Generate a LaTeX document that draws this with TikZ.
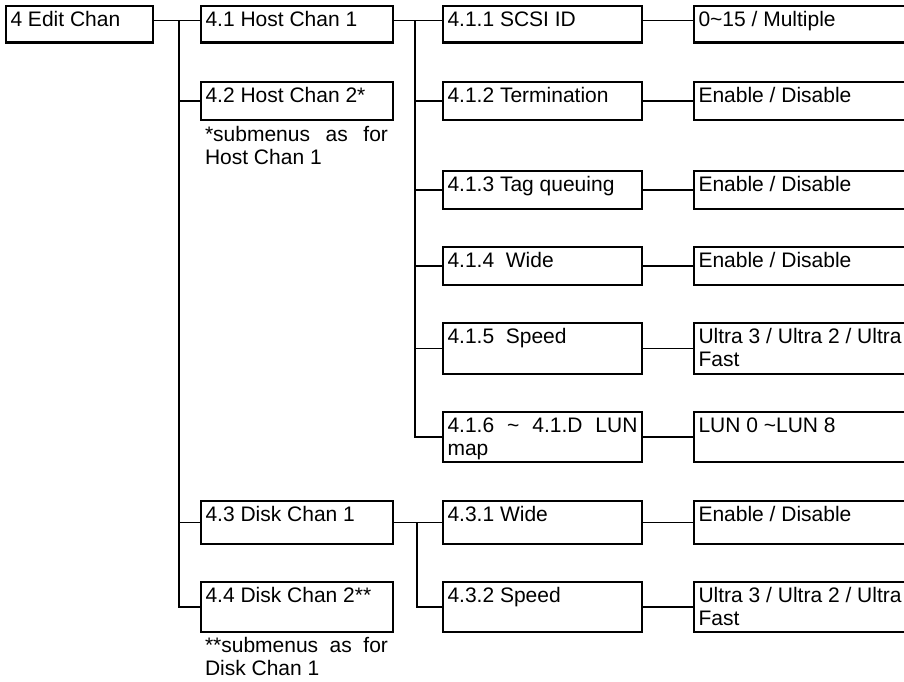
\documentclass[tikz,border=0pt]{standalone}
\usepackage{fontspec}
\setmainfont{Liberation Sans}
\newcommand\bxt[3]{\parbox[t][#2pt][t]{\dimexpr#1pt-9pt\relax}{\tolerance=10000\rule{0pt}{20.5pt}#3}}
\newcommand\notetext[1]{\parbox[t]{183pt}{\tolerance=10000\rule{0pt}{20.5pt}#1}}
\tikzset{
  menubox/.style={draw, line width=2.2pt, inner xsep=4.5pt, inner ysep=0pt, outer sep=0pt, anchor=north west},
  notebox/.style={inner sep=0pt, outer sep=0pt, anchor=north west},
  conn/.style={line width=1.5pt},
}
\begin{document}
\begin{tikzpicture}[x=1pt, y=-1pt, font=\fontsize{21}{23}\selectfont]
\useasboundingbox (0,0) rectangle (904,681);
\clip (0,0) rectangle (904,681);
% level 0
\node[menubox] (e) at (6,6) {\bxt{147}{36.5}{4 Edit Chan}};
% level 1
\node[menubox] (h1) at (201,6) {\bxt{192}{36.5}{4.1 Host Chan 1}};
\node[menubox] (h2) at (201,82) {\bxt{192}{38}{4.2 Host Chan 2*}};
\node[notebox] (n2) at (205,121) {\notetext{*submenus as for Host Chan 1}};
\node[menubox] (d1) at (201,501) {\bxt{192}{43}{4.3 Disk Chan 1}};
\node[menubox] (d2) at (201,582) {\bxt{192}{50}{4.4 Disk Chan 2**}};
\node[notebox] (n4) at (205,632) {\notetext{**submenus as for Disk Chan 1}};
% level 2
\node[menubox] (c11) at (443,6) {\bxt{199}{36.5}{4.1.1 SCSI ID}};
\node[menubox] (c12) at (443,82) {\bxt{199}{38}{4.1.2 Termination}};
\node[menubox] (c13) at (443,171) {\bxt{199}{38}{4.1.3 Tag queuing}};
\node[menubox] (c14) at (443,247) {\bxt{199}{38}{4.1.4\ \ Wide}};
\node[menubox] (c15) at (443,323) {\bxt{199}{51}{4.1.5\ \ Speed}};
\node[menubox] (c16) at (443,412) {\bxt{199}{50}{4.1.6 \textasciitilde{} 4.1.D LUN map}};
\node[menubox] (c31) at (443,501) {\bxt{199}{43}{4.3.1 Wide}};
\node[menubox] (c32) at (443,582) {\bxt{199}{50}{4.3.2 Speed}};
% level 3 (values)
\node[menubox] (v11) at (694,6) {\bxt{260}{36.5}{0\textasciitilde15 / Multiple}};
\node[menubox] (v12) at (694,82) {\bxt{260}{38}{Enable / Disable}};
\node[menubox] (v13) at (694,171) {\bxt{260}{38}{Enable / Disable}};
\node[menubox] (v14) at (694,247) {\bxt{260}{38}{Enable / Disable}};
\node[menubox] (v15) at (694,323) {\bxt{260}{51}{Ultra 3 / Ultra 2 / Ultra /\newline Fast}};
\node[menubox] (v16) at (694,412) {\bxt{260}{50}{LUN 0 \textasciitilde LUN 8}};
\node[menubox] (v31) at (694,501) {\bxt{260}{43}{Enable / Disable}};
\node[menubox] (v32) at (694,582) {\bxt{260}{50}{Ultra 3 / Ultra 2 / Ultra /\newline Fast}};
% trunk 1
\coordinate (t1) at (179,20);
\draw[conn] ([yshift=4pt]e.east) -- ([yshift=4pt]h1.west);
\draw[conn] (t1) |- (d2.west);
\draw[conn] (t1 |- h2.west) -- (h2.west);
\draw[conn] (t1 |- d1.west) -- (d1.west);
% trunk 2
\coordinate (t2) at (415,20);
\draw[conn] ([yshift=4pt]h1.east) -- ([yshift=4pt]c11.west);
\draw[conn] (t2) |- (c16.west);
\foreach \c in {c12,c13,c14,c15}{\draw[conn] (t2 |- \c.west) -- (\c.west);}
% trunk 3
\coordinate (t3) at (417,522.5);
\draw[conn] (d1.east) -- (c31.west);
\draw[conn] (t3) |- (c32.west);
% values
\draw[conn] ([yshift=4pt]c11.east) -- ([yshift=4pt]v11.west);
\foreach \a/\b in {c12/v12,c13/v13,c14/v14,c15/v15,c16/v16,c31/v31,c32/v32}{\draw[conn] (\a.east) -- (\b.west);}
\end{tikzpicture}
\end{document}
